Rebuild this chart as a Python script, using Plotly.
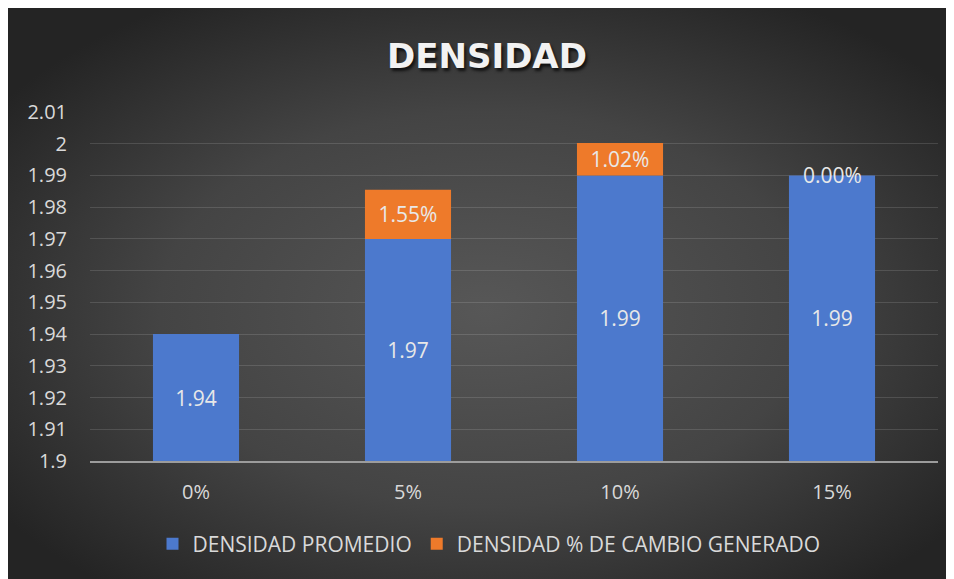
import base64
import plotly.graph_objects as go

categorias = ["0%", "5%", "10%", "15%"]
densidad_promedio = [1.94, 1.97, 1.99, 1.99]
cambio_pct = [None, 1.55, 1.02, 0.00]
y_ticks = [1.90, 1.91, 1.92, 1.93, 1.94, 1.95, 1.96, 1.97, 1.98, 1.99, 2.00, 2.01]
y_tick_labels = ["1.9", "1.91", "1.92", "1.93", "1.94", "1.95", "1.96", "1.97", "1.98", "1.99", "2", "2.01"]

W, H = 954, 579
ML, MR, MT, MB = 82, 24, 104, 126
PW, PH = W - ML - MR, H - MT - MB
Y0 = 1.9

svg = (
    '<svg xmlns="http://www.w3.org/2000/svg" width="954" height="579" viewBox="0 0 954 579" preserveAspectRatio="none">'
    '<defs><radialGradient id="g" cx="0.5" cy="0.52" r="0.62">'
    '<stop offset="0" stop-color="#575757"/><stop offset="0.55" stop-color="#444444"/>'
    '<stop offset="1" stop-color="#242424"/></radialGradient></defs>'
    '<rect width="954" height="579" fill="url(#g)"/></svg>'
)
bg_uri = "data:image/svg+xml;base64," + base64.b64encode(svg.encode()).decode()

txt_color = "#D9D9D9"
lbl_font = dict(color="#E8E8E8", size=21, family="Open Sans")

fig = go.Figure()
fig.add_trace(go.Bar(
    name="DENSIDAD PROMEDIO",
    x=categorias,
    y=[v - Y0 for v in densidad_promedio],
    base=[Y0] * len(densidad_promedio),
    marker=dict(color="#4C79CD", line=dict(width=0)),
    text=[f"{v:.2f}" for v in densidad_promedio],
    textposition="inside",
    insidetextanchor="middle",
    textangle=0,
    textfont=lbl_font,
    hoverinfo="skip",
))
fig.add_trace(go.Bar(
    name="DENSIDAD % DE CAMBIO GENERADO",
    x=categorias,
    y=[None if c is None else c / 100 for c in cambio_pct],
    base=densidad_promedio,
    marker=dict(color="#EE7A2A", line=dict(width=0)),
    text=["" if c is None else f"{c:.2f}%" for c in cambio_pct],
    textposition="inside",
    insidetextanchor="middle",
    textangle=0,
    textfont=lbl_font,
    hoverinfo="skip",
))

# labels of zero-height segments (not drawn by the bar trace itself)
annotations = []
for cat, base, c in zip(categorias, densidad_promedio, cambio_pct):
    if c is not None and c == 0:
        annotations.append(dict(
            x=cat, y=base + c / 100, xref="x", yref="y",
            text=f"{c:.2f}%", showarrow=False,
            xanchor="center", yanchor="middle", font=lbl_font,
        ))

fig.update_layout(
    width=W, height=H,
    margin=dict(l=ML, r=MR, t=MT, b=MB),
    paper_bgcolor="#2C2C2C",
    plot_bgcolor="rgba(0,0,0,0)",
    barmode="overlay",
    bargap=0.594,
    uniformtext=dict(mode="show", minsize=21),
    font=dict(family="Open Sans", color=txt_color),
    title=dict(
        text="<b>DENSIDAD</b>",
        x=(479 - ML) / PW, xref="paper", xanchor="center",
        y=1 - 48 / H, yref="container", yanchor="middle",
        font=dict(family="DejaVu Sans", size=34, color="#F2F2F2",
                  shadow="2px 3px 3px rgba(0,0,0,0.7)"),
    ),
    images=[dict(
        source=bg_uri, xref="paper", yref="paper",
        x=-ML / PW, y=(H - MB) / PH,
        sizex=W / PW, sizey=H / PH,
        xanchor="left", yanchor="top", sizing="stretch", layer="below",
    )],
    annotations=annotations,
    legend=dict(
        orientation="h", x=(481 - ML) / PW, xanchor="center",
        y=(H - MB - 536) / PH, yanchor="middle",
        font=dict(size=21, color=txt_color, family="Open Sans"),
        bgcolor="rgba(0,0,0,0)", itemwidth=30, traceorder="normal",
    ),
    showlegend=True,
)
fig.update_xaxes(
    showgrid=False, showline=True, linecolor="#9C9C9C", linewidth=2,
    ticks="", tickfont=dict(size=20, color=txt_color), ticklabelstandoff=12,
)
fig.update_yaxes(
    range=[1.9, 2.01], tickvals=y_ticks, ticktext=y_tick_labels,
    showgrid=True, gridcolor="rgba(255,255,255,0.13)", gridwidth=1,
    zeroline=False, showline=False, ticks="",
    tickfont=dict(size=20, color=txt_color), ticklabelstandoff=22,
)

fig.write_html("out.html")
